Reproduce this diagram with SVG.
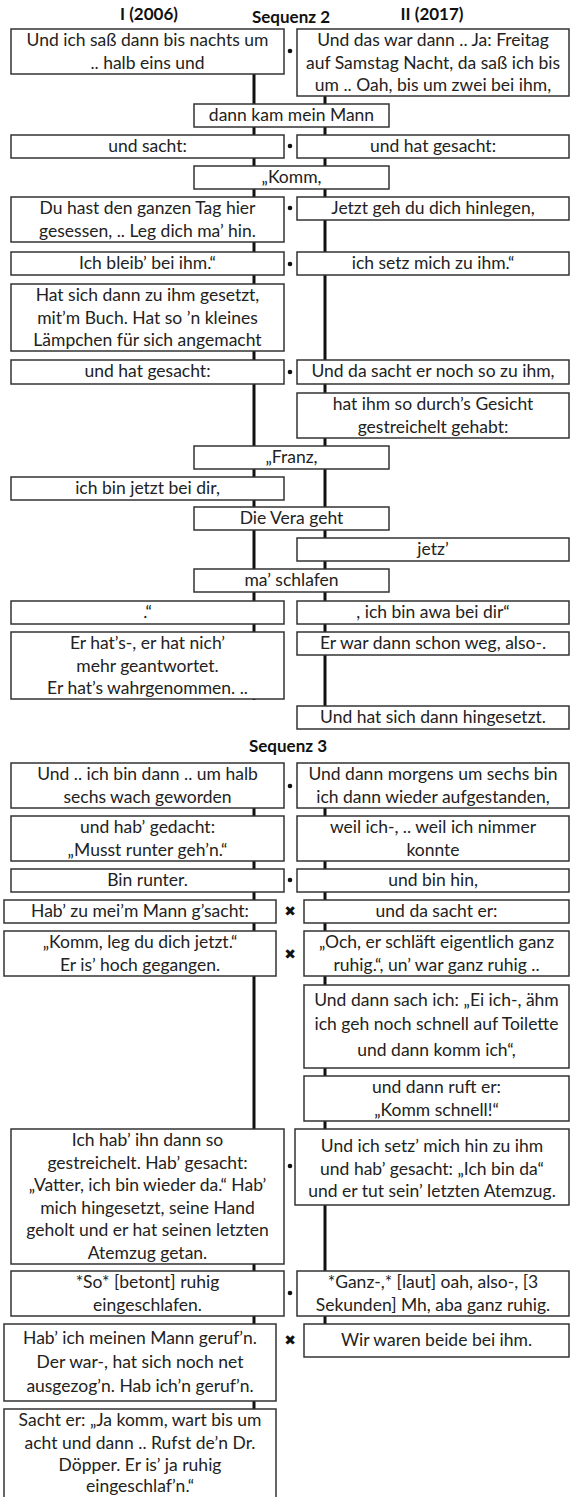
<svg xmlns="http://www.w3.org/2000/svg" width="571" height="1497" viewBox="0 0 571 1497">
<style>
.b{fill:#fff;stroke:#333;stroke-width:1.5}
.t{font-family:Lato,"Open Sans",sans-serif;font-size:17.5px;fill:#222;text-anchor:middle}
.h{font-family:Lato,"Open Sans",sans-serif;font-size:17px;font-weight:bold;fill:#111;text-anchor:middle}
.ln{stroke:#111;stroke-width:3;fill:none}
.dot{fill:#111}
.x{font-family:"DejaVu Sans",sans-serif;font-size:14px;fill:#111;text-anchor:middle}
</style>
<rect width="571" height="1497" fill="#fff"/>
<g id="headers">
<text class="h" x="149" y="20">I (2006)</text>
<text class="h" x="291" y="23">Sequenz 2</text>
<text class="h" x="432" y="20">II (2017)</text>
<text class="h" x="288" y="752">Sequenz 3</text>
</g>
<g id="connectors">
<line class="ln" x1="254" y1="72" x2="254" y2="700"/>
<line class="ln" x1="325" y1="96" x2="325" y2="706"/>
<line class="ln" x1="254" y1="808" x2="254" y2="1409"/>
<line class="ln" x1="325" y1="808" x2="325" y2="1324"/>
</g>
<g id="n1L"><rect class="b" x="11" y="29" width="273" height="45"/><text class="t" x="147.5" y="46">Und ich saß dann bis nachts um</text><text class="t" x="147.5" y="68.5">.. halb eins und</text></g>
<g id="n1R"><rect class="b" x="297" y="29" width="272" height="67"/><text class="t" x="433" y="46">Und das war dann .. Ja: Freitag</text><text class="t" x="433" y="68.5">auf Samstag Nacht, da saß ich bis</text><text class="t" x="433" y="91">um .. Oah, bis um zwei bei ihm,</text></g>
<g id="n2C"><rect class="b" x="194" y="104" width="195" height="23"/><text class="t" x="291.5" y="121">dann kam mein Mann</text></g>
<g id="n3L"><rect class="b" x="11" y="135" width="273" height="23"/><text class="t" x="147.5" y="152">und sacht:</text></g>
<g id="n3R"><rect class="b" x="297" y="135" width="272" height="23"/><text class="t" x="433" y="152">und hat gesacht:</text></g>
<g id="n4C"><rect class="b" x="194" y="166" width="195" height="23"/><text class="t" x="291.5" y="183">„Komm,</text></g>
<g id="n5L"><rect class="b" x="11" y="197" width="273" height="45"/><text class="t" x="147.5" y="214">Du hast den ganzen Tag hier</text><text class="t" x="147.5" y="236.5">gesessen, .. Leg dich ma’ hin.</text></g>
<g id="n5R"><rect class="b" x="297" y="197" width="272" height="23"/><text class="t" x="433" y="214">Jetzt geh du dich hinlegen,</text></g>
<g id="n6L"><rect class="b" x="11" y="252" width="273" height="23"/><text class="t" x="147.5" y="269">Ich bleib’ bei ihm.“</text></g>
<g id="n6R"><rect class="b" x="297" y="252" width="272" height="23"/><text class="t" x="433" y="269">ich setz mich zu ihm.“</text></g>
<g id="n7L"><rect class="b" x="11" y="284" width="273" height="67"/><text class="t" x="147.5" y="301">Hat sich dann zu ihm gesetzt,</text><text class="t" x="147.5" y="323.5">mit’m Buch. Hat so ’n kleines</text><text class="t" x="147.5" y="346">Lämpchen für sich angemacht</text></g>
<g id="n8L"><rect class="b" x="11" y="360" width="273" height="24"/><text class="t" x="147.5" y="377">und hat gesacht:</text></g>
<g id="n8R"><rect class="b" x="297" y="360" width="272" height="24"/><text class="t" x="433" y="377">Und da sacht er noch so zu ihm,</text></g>
<g id="n9R"><rect class="b" x="297" y="393" width="272" height="45"/><text class="t" x="433" y="410">hat ihm so durch’s Gesicht</text><text class="t" x="433" y="432.5">gestreichelt gehabt:</text></g>
<g id="n10C"><rect class="b" x="194" y="446" width="195" height="23"/><text class="t" x="291.5" y="463">„Franz,</text></g>
<g id="n11L"><rect class="b" x="11" y="477" width="273" height="23"/><text class="t" x="147.5" y="494">ich bin jetzt bei dir,</text></g>
<g id="n12C"><rect class="b" x="194" y="507" width="195" height="23"/><text class="t" x="291.5" y="524">Die Vera geht</text></g>
<g id="n13R"><rect class="b" x="297" y="538" width="272" height="23"/><text class="t" x="433" y="555">jetz’</text></g>
<g id="n14C"><rect class="b" x="194" y="569" width="195" height="23"/><text class="t" x="291.5" y="586">ma’ schlafen</text></g>
<g id="n15L"><rect class="b" x="11" y="601" width="273" height="23"/><text class="t" x="147.5" y="618">.“</text></g>
<g id="n15R"><rect class="b" x="297" y="601" width="272" height="23"/><text class="t" x="433" y="618">, ich bin awa bei dir“</text></g>
<g id="n16L"><rect class="b" x="11" y="632" width="273" height="67"/><text class="t" x="147.5" y="649">Er hat’s-, er hat nich’</text><text class="t" x="147.5" y="671.5">mehr geantwortet.</text><text class="t" x="147.5" y="694">Er hat’s wahrgenommen. ..</text></g>
<g id="n16R"><rect class="b" x="297" y="632" width="272" height="23"/><text class="t" x="433" y="649">Er war dann schon weg, also-.</text></g>
<g id="n17R"><rect class="b" x="297" y="706" width="272" height="23"/><text class="t" x="433" y="723">Und hat sich dann hingesetzt.</text></g>
<g id="n18L"><rect class="b" x="11" y="763" width="273" height="45"/><text class="t" x="147.5" y="780">Und .. ich bin dann .. um halb</text><text class="t" x="147.5" y="802.5">sechs wach geworden</text></g>
<g id="n18R"><rect class="b" x="297" y="763" width="272" height="45"/><text class="t" x="433" y="780">Und dann morgens um sechs bin</text><text class="t" x="433" y="802.5">ich dann wieder aufgestanden,</text></g>
<g id="n19L"><rect class="b" x="11" y="816" width="273" height="45"/><text class="t" x="147.5" y="833">und hab’ gedacht:</text><text class="t" x="147.5" y="855.5">„Musst runter geh’n.“</text></g>
<g id="n19R"><rect class="b" x="297" y="816" width="272" height="45"/><text class="t" x="433" y="833">weil ich-, .. weil ich nimmer</text><text class="t" x="433" y="855.5">konnte</text></g>
<g id="n20L"><rect class="b" x="11" y="869" width="273" height="23"/><text class="t" x="147.5" y="886">Bin runter.</text></g>
<g id="n20R"><rect class="b" x="297" y="869" width="272" height="23"/><text class="t" x="433" y="886">und bin hin,</text></g>
<g id="n21L"><rect class="b" x="4" y="900" width="272" height="23"/><text class="t" x="140" y="917">Hab’ zu mei’m Mann g’sacht:</text></g>
<g id="n21R"><rect class="b" x="304" y="900" width="265" height="23"/><text class="t" x="436.5" y="917">und da sacht er:</text></g>
<g id="n22L"><rect class="b" x="4" y="931" width="272" height="45"/><text class="t" x="140" y="948">„Komm, leg du dich jetzt.“</text><text class="t" x="140" y="970.5">Er is’ hoch gegangen.</text></g>
<g id="n22R"><rect class="b" x="304" y="931" width="265" height="45"/><text class="t" x="436.5" y="948">„Och, er schläft eigentlich ganz</text><text class="t" x="436.5" y="970.5">ruhig.“, un’ war ganz ruhig ..</text></g>
<g id="n23R"><rect class="b" x="304" y="985" width="265" height="83"/><text class="t" x="436.5" y="1006">Und dann sach ich: „Ei ich-, ähm</text><text class="t" x="436.5" y="1030">ich geh noch schnell auf Toilette</text><text class="t" x="436.5" y="1056">und dann komm ich“,</text></g>
<g id="n24R"><rect class="b" x="304" y="1076" width="265" height="45"/><text class="t" x="436.5" y="1093">und dann ruft er:</text><text class="t" x="436.5" y="1115.5">„Komm schnell!“</text></g>
<g id="n25L"><rect class="b" x="11" y="1129" width="273" height="135"/><text class="t" x="147.5" y="1146">Ich hab’ ihn dann so</text><text class="t" x="147.5" y="1168.5">gestreichelt. Hab’ gesacht:</text><text class="t" x="147.5" y="1191">„Vatter, ich bin wieder da.“ Hab’</text><text class="t" x="147.5" y="1213.5">mich hingesetzt, seine Hand</text><text class="t" x="147.5" y="1236">geholt und er hat seinen letzten</text><text class="t" x="147.5" y="1258.5">Atemzug getan.</text></g>
<g id="n25R"><rect class="b" x="295" y="1129" width="274" height="76"/><text class="t" x="432" y="1152">Und ich setz’ mich hin zu ihm</text><text class="t" x="432" y="1174.5">und hab’ gesacht: „Ich bin da“</text><text class="t" x="432" y="1197">und er tut sein’ letzten Atemzug.</text></g>
<g id="n26L"><rect class="b" x="11" y="1271" width="273" height="45"/><text class="t" x="147.5" y="1288">*So* [betont] ruhig</text><text class="t" x="147.5" y="1310.5">eingeschlafen.</text></g>
<g id="n26R"><rect class="b" x="297" y="1271" width="272" height="45"/><text class="t" x="433" y="1288">*Ganz-,* [laut] oah, also-, [3</text><text class="t" x="433" y="1310.5">Sekunden] Mh, aba ganz ruhig.</text></g>
<g id="n27L"><rect class="b" x="4" y="1324" width="272" height="77"/><text class="t" x="140" y="1344">Hab’ ich meinen Mann geruf’n.</text><text class="t" x="140" y="1368">Der war-, hat sich noch net</text><text class="t" x="140" y="1392">ausgezog’n. Hab ich’n geruf’n.</text></g>
<g id="n27R"><rect class="b" x="304" y="1324" width="265" height="33"/><text class="t" x="436.5" y="1346">Wir waren beide bei ihm.</text></g>
<g id="n28L"><rect class="b" x="4" y="1409" width="272" height="95"/><text class="t" x="140" y="1426">Sacht er: „Ja komm, wart bis um</text><text class="t" x="140" y="1448.5">acht und dann .. Rufst de’n Dr.</text><text class="t" x="140" y="1471">Döpper. Er is’ ja ruhig</text><text class="t" x="140" y="1492">eingeschlaf’n.“</text></g>
<g id="markers">
<circle class="dot" cx="290" cy="51" r="2.3"/>
<circle class="dot" cx="290" cy="146" r="2.3"/>
<circle class="dot" cx="290" cy="208" r="2.3"/>
<circle class="dot" cx="290" cy="264" r="2.3"/>
<circle class="dot" cx="290" cy="372" r="2.3"/>
<circle class="dot" cx="290" cy="786" r="2.3"/>
<circle class="dot" cx="290" cy="880" r="2.3"/>
<circle class="dot" cx="290" cy="1166" r="2.3"/>
<circle class="dot" cx="290" cy="1293" r="2.3"/>
<text class="x" x="290" y="916">✖</text>
<text class="x" x="290" y="959">✖</text>
<text class="x" x="290" y="1345">✖</text>
</g>
</svg>
